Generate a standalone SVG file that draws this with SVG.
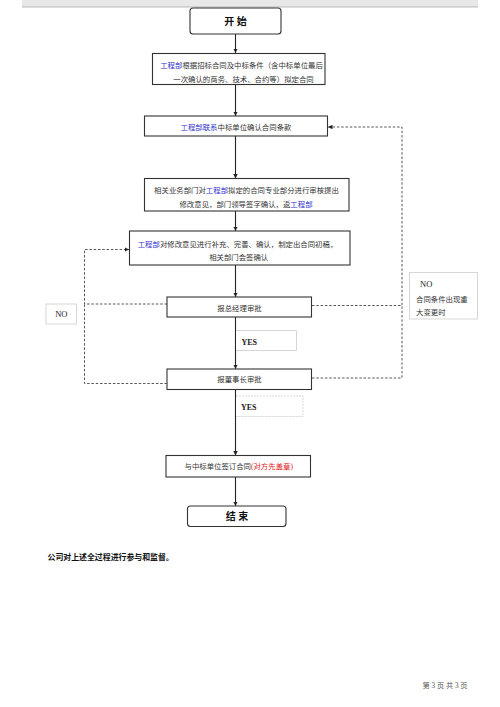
<svg xmlns="http://www.w3.org/2000/svg" width="500" height="707" viewBox="0 0 500 707">
<defs>
<marker id="arr" viewBox="0 0 10 10" refX="10" refY="5" markerWidth="4.5" markerHeight="4.5" orient="auto" markerUnits="userSpaceOnUse">
<path d="M0,0 L10,5 L0,10 z" fill="#222"/>
</marker>
<style>
.box{fill:#fff;stroke:#333;stroke-width:1.1}
.lbl{fill:#fff;stroke:#ccc;stroke-width:0.8}
.t{font-family:"Liberation Serif","Noto Sans CJK SC",serif;font-size:7.4px;fill:#333;text-anchor:middle}
.b{font-family:"Noto Sans CJK SC",sans-serif;font-weight:bold;fill:#111;text-anchor:middle}
.s{text-anchor:start}
.blue{fill:#3333cc}
.red{fill:#e02020}
.en{font-family:"Liberation Serif",serif;fill:#222}
.ln{stroke:#222;stroke-width:1.1;fill:none}
.dash{stroke:#444;stroke-width:0.9;fill:none;stroke-dasharray:2.5,1.8}
</style>
</defs>
<rect x="22" y="0" width="456" height="7" fill="#e8e8e8"/>
<line x1="22" y1="7" x2="478" y2="7" stroke="#aaa" stroke-width="0.8"/>

<g id="connectors">
<line class="ln" x1="235.5" y1="34" x2="235.5" y2="53" marker-end="url(#arr)"/>
<line class="ln" x1="235.5" y1="84.5" x2="235.5" y2="116" marker-end="url(#arr)"/>
<line class="ln" x1="235.5" y1="136" x2="235.5" y2="178.5" marker-end="url(#arr)"/>
<line class="ln" x1="235.5" y1="211" x2="235.5" y2="231" marker-end="url(#arr)"/>
<line class="ln" x1="235.5" y1="265" x2="235.5" y2="297" marker-end="url(#arr)"/>
<line class="ln" x1="235.5" y1="317" x2="235.5" y2="369" marker-end="url(#arr)"/>
<line class="ln" x1="235.5" y1="389.5" x2="235.5" y2="455.5" marker-end="url(#arr)"/>
<line class="ln" x1="235.5" y1="477" x2="235.5" y2="506" marker-end="url(#arr)"/>
<polyline class="dash" points="167,304 84.5,304 84.5,249.5 129,249.5" marker-end="url(#arr)"/>
<polyline class="dash" points="167,383.5 84.5,383.5 84.5,304"/>
<polyline class="dash" points="312,305.5 402,305.5 402,127 328,127" marker-end="url(#arr)"/>
<polyline class="dash" points="312,378 402,378 402,305.5"/>
</g>

<g id="start">
<rect class="box" x="190" y="8" width="91" height="26" rx="3"/>
<text class="b" x="235.5" y="24.5" font-size="10">开 始</text>
</g>

<g id="n1">
<rect class="box" x="152.5" y="53.5" width="172.5" height="31"/>
<text class="t" x="241.5" y="68.4"><tspan class="blue">工程部</tspan>根据招标合同及中标条件（含中标单位最后</text>
<text class="t" x="243.5" y="82">一次确认的商务、技术、合约等）拟定合同</text>
</g>

<g id="n2">
<rect class="box" x="144.5" y="116" width="183" height="20"/>
<text class="t" x="236" y="130"><tspan class="blue">工程部联系</tspan>中标单位确认合同条款</text>
</g>

<g id="n3">
<rect class="box" x="144.5" y="178.5" width="204.5" height="32.5"/>
<text class="t" x="246.5" y="193.4">相关业务部门对<tspan class="blue">工程部</tspan>拟定的合同专业部分进行审核提出</text>
<text class="t" x="246" y="206.7">修改意见，部门领导签字确认，返<tspan class="blue">工程部</tspan></text>
</g>

<g id="n4">
<rect class="box" x="129.5" y="231" width="220.5" height="34"/>
<text class="t" x="237.5" y="247"><tspan class="blue">工程部</tspan>对修改意见进行补充、完善、确认，制定出合同初稿，</text>
<text class="t" x="238.7" y="260.4">相关部门会签确认</text>
</g>

<g id="n5">
<rect class="box" x="167" y="297" width="144.5" height="20"/>
<text class="t" x="239.5" y="311">报总经理审批</text>
</g>

<g id="n6">
<rect class="box" x="167" y="369" width="144.5" height="20.5"/>
<text class="t" x="239.5" y="382">报董事长审批</text>
</g>

<g id="n7">
<rect class="box" x="166" y="455.5" width="144.5" height="21.5"/>
<text class="t" x="238.7" y="469.4">与中标单位签订合同<tspan class="red">(对方先盖章)</tspan></text>
</g>

<g id="end">
<rect class="box" x="187.5" y="506" width="98.5" height="20.5" rx="3"/>
<text class="b" x="237" y="520.2" font-size="10">结 束</text>
</g>

<g id="yes1">
<path class="lbl" d="M236,330.5 H296.5 V350.5 H236"/>
<text class="en" x="241.5" y="345.2" font-size="8" font-weight="bold">YES</text>
</g>

<g id="yes2">
<path class="lbl" d="M236,396 H303 V416.5 H236" stroke-dasharray="2,1"/>
<text class="en" x="241" y="410.2" font-size="8" font-weight="bold">YES</text>
</g>

<g id="no1">
<rect class="lbl" x="46" y="304" width="30.5" height="20"/>
<text class="en" x="61.3" y="317" font-size="8.5" text-anchor="middle">NO</text>
</g>

<g id="no2">
<rect class="lbl" x="409.5" y="272.5" width="68" height="46.5"/>
<text class="en" x="420" y="287" font-size="8.5">NO</text>
<text class="t s" x="416" y="301.7">合同条件出现重</text>
<text class="t s" x="416" y="315">大变更时</text>
</g>

<text class="b s" x="47.5" y="559.5" font-size="7.9">公司对上述全过程进行参与和监督。</text>
<text x="445" y="687.5" font-family="Liberation Serif,Noto Sans CJK SC,serif" font-size="7.2" fill="#555" text-anchor="middle">第 3 页 共 3 页</text>
</svg>
